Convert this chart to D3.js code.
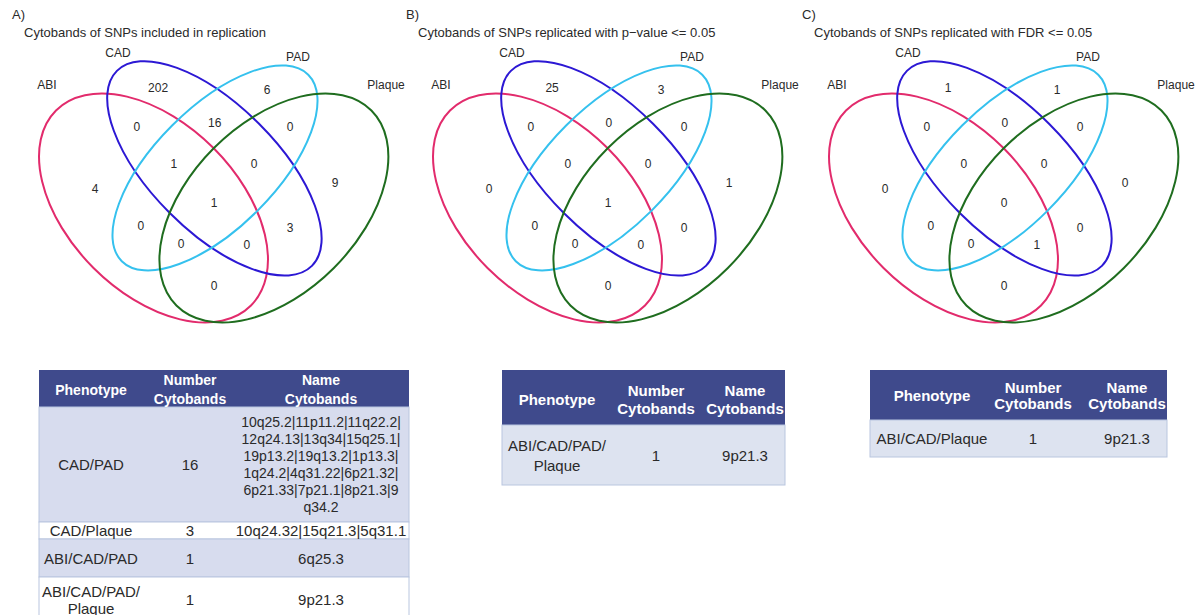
<!DOCTYPE html>
<html>
<head>
<meta charset="utf-8">
<script src="https://cdn.jsdelivr.net/npm/d3@7"></script>
<style>
  body { margin: 0; background: #ffffff; }
  text { font-family: "Liberation Sans", Arial, sans-serif; }
</style>
</head>
<body>
<svg id="chart" width="1199" height="615"></svg>
<script>
// ---------- data ----------
const sets = ["ABI", "CAD", "PAD", "Plaque"];

// Venn regions, identified by the sets they belong to
const regions = [
  "CAD", "PAD", "ABI&CAD", "CAD&PAD", "PAD&Plaque",
  "ABI", "ABI&CAD&PAD", "CAD&PAD&Plaque", "Plaque", "ABI&CAD&PAD&Plaque",
  "ABI&PAD", "CAD&Plaque", "ABI&PAD&Plaque", "ABI&CAD&Plaque", "ABI&Plaque"
];
const countsA = [202, 6, 0, 16, 0, 4, 1, 0, 9, 1, 0, 3, 0, 0, 0];
const countsB = [25, 3, 0, 0, 0, 0, 0, 0, 1, 1, 0, 0, 0, 0, 0];
const countsC = [1, 1, 0, 0, 0, 0, 0, 0, 0, 0, 0, 0, 0, 1, 0];

const panelLetters = ["A)", "B)", "C)"];
const panelTitles = [
  "Cytobands of SNPs included in replication",
  "Cytobands of SNPs replicated with p\u2212value <= 0.05",
  "Cytobands of SNPs replicated with FDR <= 0.05"
];

// Tables under each diagram
const tableHeader = [["Phenotype"], ["Number", "Cytobands"], ["Name", "Cytobands"]];

const phenotypesA = [["CAD/PAD"], ["CAD/Plaque"], ["ABI/CAD/PAD"], ["ABI/CAD/PAD/", "Plaque"]];
const numbersA = [16, 3, 1, 1];
const bandsA = [
  ["10q25.2|11p11.2|11q22.2|", "12q24.13|13q34|15q25.1|", "19p13.2|19q13.2|1p13.3|",
   "1q24.2|4q31.22|6p21.32|", "6p21.33|7p21.1|8p21.3|9", "q34.2"],
  ["10q24.32|15q21.3|5q31.1"],
  ["6q25.3"],
  ["9p21.3"]
];

const phenotypesB = [["ABI/CAD/PAD/", "Plaque"]];
const numbersB = [1];
const bandsB = [["9p21.3"]];

const phenotypesC = [["ABI/CAD/Plaque"]];
const numbersC = [1];
const bandsC = [["9p21.3"]];

// ---------- layout ----------
const svg = d3.select("#chart");
const UNIT = 402;                       // pixels per layout unit
const panelX = [13, 407, 803];          // left of each diagram's unit square
const setColors = ["#e22b6c", "#2c18d4", "#35c1ee", "#1f6d1f"];
const INK = "#2a2a2a";

// ellipse geometry in unit space (centre, semi-axes, rotation in degrees)
const ellipseLayout = [
  { cx: 0.3495, cy: 0.4704, a: 0.343, b: 0.211, rot: 45 },
  { cx: 0.5010, cy: 0.5690, a: 0.343, b: 0.157, rot: 45 },
  { cx: 0.5025, cy: 0.5700, a: 0.328, b: 0.150, rot: -45 },
  { cx: 0.6490, cy: 0.4704, a: 0.343, b: 0.211, rot: -45 }
];
// where each region's count is written (unit space)
const regionAnchor = {
  "CAD": [0.361, 0.769], "PAD": [0.632, 0.764],
  "ABI&CAD": [0.308, 0.672], "CAD&PAD": [0.502, 0.682], "PAD&Plaque": [0.689, 0.672],
  "ABI": [0.204, 0.518], "ABI&CAD&PAD": [0.400, 0.580], "CAD&PAD&Plaque": [0.600, 0.580],
  "Plaque": [0.801, 0.533], "ABI&CAD&PAD&Plaque": [0.500, 0.483],
  "ABI&PAD": [0.318, 0.426], "CAD&Plaque": [0.689, 0.420],
  "ABI&PAD&Plaque": [0.418, 0.381], "ABI&CAD&Plaque": [0.582, 0.378],
  "ABI&Plaque": [0.500, 0.276]
};
const setAnchor = [[0.0846, 0.776], [0.2612, 0.856], [0.709, 0.846], [0.928, 0.776]];

function drawVenn(i, counts) {
  const x = d3.scaleLinear().domain([0, 1]).range([panelX[i], panelX[i] + UNIT]);
  const y = d3.scaleLinear().domain([0, 1]).range([UNIT - 4.9, -4.9]);
  const g = svg.append("g");

  g.append("text")
    .attr("x", panelX[i] - 1).attr("y", 19)
    .attr("font-size", 13).attr("fill", INK)
    .text(panelLetters[i]);
  g.append("text")
    .attr("x", panelX[i] + 11).attr("y", 36.5)
    .attr("font-size", 13).attr("fill", INK)
    .text(panelTitles[i]);

  g.selectAll("ellipse").data(ellipseLayout).join("ellipse")
    .attr("cx", 0).attr("cy", 0)
    .attr("rx", d => x(d.a) - x(0))
    .attr("ry", d => x(d.b) - x(0))
    .attr("transform", d => `translate(${x(d.cx)},${y(d.cy)}) rotate(${d.rot})`)
    .attr("fill", "none")
    .attr("stroke", (d, k) => setColors[k])
    .attr("stroke-width", 2);

  g.selectAll("text.set").data(sets).join("text")
    .attr("class", "set")
    .attr("x", (d, k) => x(setAnchor[k][0]))
    .attr("y", (d, k) => y(setAnchor[k][1]))
    .attr("text-anchor", "middle").attr("dominant-baseline", "central")
    .attr("font-size", 12).attr("fill", INK)
    .text(d => d);

  g.selectAll("text.count").data(regions).join("text")
    .attr("class", "count")
    .attr("x", d => x(regionAnchor[d][0]))
    .attr("y", d => y(regionAnchor[d][1]))
    .attr("text-anchor", "middle").attr("dominant-baseline", "central")
    .attr("font-size", 12).attr("fill", INK)
    .text((d, k) => counts[k]);
}

drawVenn(0, countsA);
drawVenn(1, countsB);
drawVenn(2, countsC);

// ---------- tables ----------
const HEAD_FILL = "#3f4a8c";
const ROW_FILL = "#d7dcee";
const ROW_EDGE = "#b9c6df";

function drawTable(t, phenotypes, numbers, bands) {
  const g = svg.append("g");
  const rowTops = [t.headTop, t.headBottom];
  t.rowHeights.forEach(h => rowTops.push(rowTops[rowTops.length - 1] + h));

  // header band
  g.append("rect")
    .attr("x", t.left).attr("y", t.headTop)
    .attr("width", t.right - t.left).attr("height", t.headBottom - t.headTop)
    .attr("fill", HEAD_FILL);

  // body rows
  const rows = d3.range(numbers.length);
  g.selectAll("rect.row").data(rows).join("rect")
    .attr("class", "row")
    .attr("x", t.left).attr("y", r => rowTops[r + 1])
    .attr("width", t.right - t.left).attr("height", r => t.rowHeights[r])
    .attr("fill", r => t.rowFills[r])
    .attr("stroke", ROW_EDGE).attr("stroke-width", 1);

  // header text
  tableHeader.forEach((lines, c) => {
    const mid = (t.headTop + t.headBottom) / 2 + t.headShift;
    lines.forEach((s, l) => {
      g.append("text")
        .attr("x", t.colCenters[c])
        .attr("y", mid + (l - (lines.length - 1) / 2) * t.headLine)
        .attr("text-anchor", "middle").attr("dominant-baseline", "central")
        .attr("font-size", t.headFont).attr("font-weight", "bold").attr("fill", "#ffffff")
        .text(s);
    });
  });

  // body text
  rows.forEach(r => {
    const mid = (rowTops[r + 1] + rowTops[r + 2]) / 2;
    const cells = [phenotypes[r], [String(numbers[r])], bands[r]];
    cells.forEach((lines, c) => {
      lines.forEach((s, l) => {
        g.append("text")
          .attr("x", t.colCenters[c])
          .attr("y", mid + (l - (lines.length - 1) / 2) * t.bodyLine)
          .attr("text-anchor", "middle").attr("dominant-baseline", "central")
          .attr("font-size", c === 2 && lines.length > 1 ? t.bandFont : t.bodyFont)
          .attr("fill", INK)
          .text(s);
      });
    });
  });
}

drawTable({
  left: 39, right: 409, headTop: 370, headBottom: 407, headShift: 1,
  rowHeights: [115, 17, 38, 45],
  rowFills: [ROW_FILL, "#ffffff", ROW_FILL, "#ffffff"],
  colCenters: [91, 190, 321], headFont: 14, headLine: 19,
  bodyFont: 15, bandFont: 14, bodyLine: 17
}, phenotypesA, numbersA, bandsA);

drawTable({
  left: 502, right: 785, headTop: 370, headBottom: 425, headShift: 1.5,
  rowHeights: [60],
  rowFills: ["#dde3f0"],
  colCenters: [557, 656, 745], headFont: 15, headLine: 18,
  bodyFont: 15, bandFont: 15, bodyLine: 20
}, phenotypesB, numbersB, bandsB);

drawTable({
  left: 870, right: 1167, headTop: 370, headBottom: 420, headShift: 0,
  rowHeights: [37],
  rowFills: ["#dde3f0"],
  colCenters: [932, 1033, 1127], headFont: 15, headLine: 16,
  bodyFont: 15, bandFont: 15, bodyLine: 20
}, phenotypesC, numbersC, bandsC);
</script>
</body>
</html>
